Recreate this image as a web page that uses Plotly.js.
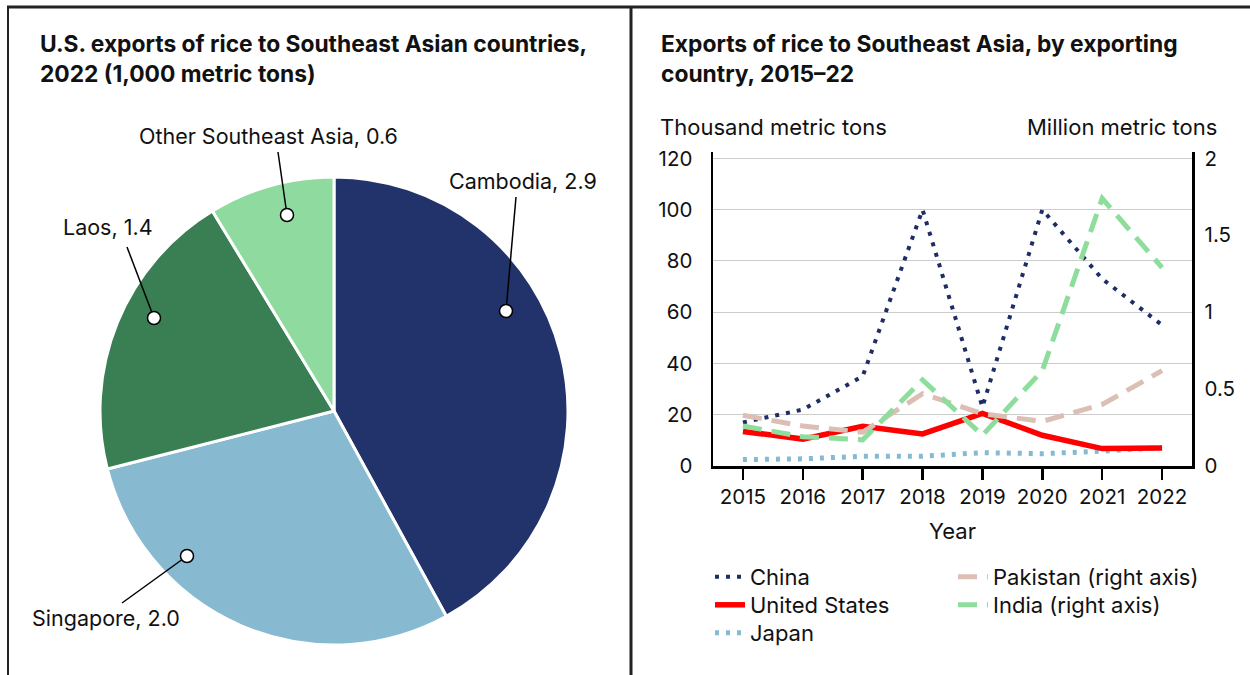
<!DOCTYPE html>
<html><head><meta charset="utf-8">
<script src="https://cdn.plot.ly/plotly-3.0.1.min.js"></script>
<style>html,body{margin:0;padding:0;background:#fff}#chart{width:1250px;height:675px}</style>
</head><body><div id="chart"></div>
<script>
// ---- Data ----
const pieLabels = ['Cambodia', 'Singapore', 'Laos', 'Other Southeast Asia'];
const pieValues = [2.9, 2.0, 1.4, 0.6];
const pieColors = ['#22336b', '#87bad0', '#3a7f53', '#8fdb9f'];

const years = [2015, 2016, 2017, 2018, 2019, 2020, 2021, 2022];
const china = [17, 22, 35, 100, 23, 100, 73, 55];
const unitedStates = [13.5, 10.5, 15.5, 12.5, 20.5, 12, 6.8, 7];
const japan = [2.5, 2.8, 3.8, 3.8, 5.2, 4.8, 5.8, 7.2];
const pakistan = [0.33, 0.26, 0.22, 0.47, 0.34, 0.29, 0.40, 0.62];
const india = [0.26, 0.19, 0.17, 0.56, 0.20, 0.62, 1.74, 1.29];

const leftTicks = [0, 20, 40, 60, 80, 100, 120];
const rightTicks = [0, 0.5, 1, 1.5, 2];
const rightTickText = ['0', '0.5', '1', '1.5', '2'];

// ---- Layout helpers (pixel -> paper) ----
const W = 1250, H = 675;
const px = x => x / W;
const py = y => 1 - y / H;

const BODY = 'Inter, "Noto Sans", sans-serif';
const TITLE = 'Inter, Roboto, sans-serif';
const INK = '#111111';

const traces = [
  {
    type: 'pie', labels: pieLabels, values: pieValues, sort: false, direction: 'clockwise', rotation: 0,
    marker: {colors: pieColors, line: {color: '#ffffff', width: 3}},
    textinfo: 'none', hoverinfo: 'skip', showlegend: false,
    domain: {x: [px(100), px(568)], y: [py(645), py(177)]}
  },
  {type: 'scatter', mode: 'lines', name: 'Japan', x: years, y: japan, xaxis: 'x', yaxis: 'y',
   line: {color: '#85bbd1', width: 5, dash: '4px,7px'}, legend: 'legend3', hoverinfo: 'skip'},
  {type: 'scatter', mode: 'lines', name: 'United States', x: years, y: unitedStates, xaxis: 'x', yaxis: 'y',
   line: {color: '#ff0000', width: 5.5}, legend: 'legend2', hoverinfo: 'skip'},
  {type: 'scatter', mode: 'lines', name: 'China', x: years, y: china, xaxis: 'x', yaxis: 'y',
   line: {color: '#1e2d63', width: 4, dash: '4px,7px'}, legend: 'legend', hoverinfo: 'skip'},
  {type: 'scatter', mode: 'lines', name: 'Pakistan (right axis)', x: years, y: pakistan, xaxis: 'x', yaxis: 'y2',
   line: {color: '#dbbfb4', width: 5, dash: '19px,10px'}, legend: 'legend4', hoverinfo: 'skip'},
  {type: 'scatter', mode: 'lines', name: 'India (right axis)', x: years, y: india, xaxis: 'x', yaxis: 'y2',
   line: {color: '#8edd9d', width: 5, dash: '19px,10px'}, legend: 'legend5', hoverinfo: 'skip'}
];

// Pie label annotations & leader lines
const labelSpecs = [
  {i: 0, tx: 447, ty: 181, lx0: 506, ly0: 311, lx1: 516, ly1: 197},
  {i: 1, tx: 30, ty: 618, lx0: 187, ly0: 556, lx1: 122, ly1: 603},
  {i: 2, tx: 61, ty: 227, lx0: 154, ly0: 318, lx1: 127, ly1: 247},
  {i: 3, tx: 137, ty: 136, lx0: 287, ly0: 215, lx1: 278, ly1: 152}
];

const shapes = [
  {type: 'line', xref: 'paper', yref: 'paper', x0: px(7), x1: 1, y0: py(7), y1: py(7), line: {color: '#222', width: 3}},
  {type: 'line', xref: 'paper', yref: 'paper', x0: px(8), x1: px(8), y0: py(6), y1: 0, line: {color: '#222', width: 2}},
  {type: 'line', xref: 'paper', yref: 'paper', x0: px(631), x1: px(631), y0: py(6), y1: 0, line: {color: '#222', width: 3}}
];
const annotations = [];

labelSpecs.forEach(s => {
  shapes.push({type: 'line', xref: 'paper', yref: 'paper', layer: 'above',
    x0: px(s.lx0), y0: py(s.ly0), x1: px(s.lx1), y1: py(s.ly1), line: {color: '#000', width: 1.5}});
  shapes.push({type: 'circle', xref: 'paper', yref: 'paper', layer: 'above',
    x0: px(s.lx0 - 6.5), x1: px(s.lx0 + 6.5), y0: py(s.ly0 + 6.5), y1: py(s.ly0 - 6.5),
    fillcolor: '#ffffff', line: {color: '#000', width: 1.5}});
  annotations.push({xref: 'paper', yref: 'paper', x: px(s.tx), y: py(s.ty), xanchor: 'left', yanchor: 'middle',
    showarrow: false, text: pieLabels[s.i] + ', ' + pieValues[s.i].toFixed(1),
    font: {family: BODY, size: 21.5, color: INK}});
});

annotations.push(
  {xref: 'paper', yref: 'paper', x: px(38), y: py(59), xanchor: 'left', yanchor: 'middle', align: 'left', showarrow: false,
   text: '<b>U.S. exports of rice to Southeast Asian countries,<br>2022 (1,000 metric tons)</b>',
   font: {family: TITLE, size: 22.8, color: INK}},
  {xref: 'paper', yref: 'paper', x: px(659), y: py(59), xanchor: 'left', yanchor: 'middle', align: 'left', showarrow: false,
   text: '<b>Exports of rice to Southeast Asia, by exporting<br>country, 2015–22</b>',
   font: {family: TITLE, size: 22.8, color: INK}},
  {xref: 'paper', yref: 'paper', x: px(658), y: py(127), xanchor: 'left', yanchor: 'middle', showarrow: false,
   text: 'Thousand metric tons', font: {family: BODY, size: 22, color: INK}},
  {xref: 'paper', yref: 'paper', x: px(1219), y: py(127), xanchor: 'right', yanchor: 'middle', showarrow: false,
   text: 'Million metric tons', font: {family: BODY, size: 22, color: INK}}
);

function legendAt(xPix, yPix) {
  return {x: px(xPix), y: py(yPix), xanchor: 'left', yanchor: 'middle', bgcolor: 'rgba(0,0,0,0)',
    font: {family: BODY, size: 22, color: INK}, itemwidth: 30};
}

const layout = {
  width: W, height: H,
  margin: {l: 0, r: 0, t: 0, b: 0},
  paper_bgcolor: '#ffffff', plot_bgcolor: '#ffffff',
  font: {family: BODY, size: 20, color: INK},
  xaxis: {
    domain: [px(713), px(1192)], range: [2014.5, 2022.5], tickvals: years, ticktext: years.map(String),
    showgrid: false, zeroline: false, showline: true, linecolor: '#000', linewidth: 2.5,
    ticks: 'outside', ticklen: 11, tickwidth: 2.5, tickcolor: '#000',
    tickfont: {family: BODY, size: 20.5, color: INK},
    title: {text: 'Year', font: {family: BODY, size: 22, color: INK}, standoff: 16}
  },
  yaxis: {
    domain: [py(466), py(152)], range: [0, 122.5], tickvals: leftTicks,
    showgrid: true, gridcolor: '#cccccc', gridwidth: 1, zeroline: false,
    showline: true, linecolor: '#000', linewidth: 2.5, ticks: '', ticklabelstandoff: 14,
    tickfont: {family: BODY, size: 20.5, color: INK}
  },
  yaxis2: {
    overlaying: 'y', side: 'right', anchor: 'x', range: [0, 122.5 / 60], tickvals: rightTicks, ticktext: rightTickText,
    showgrid: false, zeroline: false, showline: true, linecolor: '#000', linewidth: 2.5, ticks: '', ticklabelstandoff: 6,
    tickfont: {family: BODY, size: 20.5, color: INK}
  },
  legend: legendAt(710, 577),
  legend2: legendAt(710, 605),
  legend3: legendAt(710, 633),
  legend4: legendAt(953, 577),
  legend5: legendAt(953, 605),
  shapes: shapes,
  annotations: annotations
};

Plotly.newPlot('chart', traces, layout, {staticPlot: true, displayModeBar: false});
</script>
</body></html>
